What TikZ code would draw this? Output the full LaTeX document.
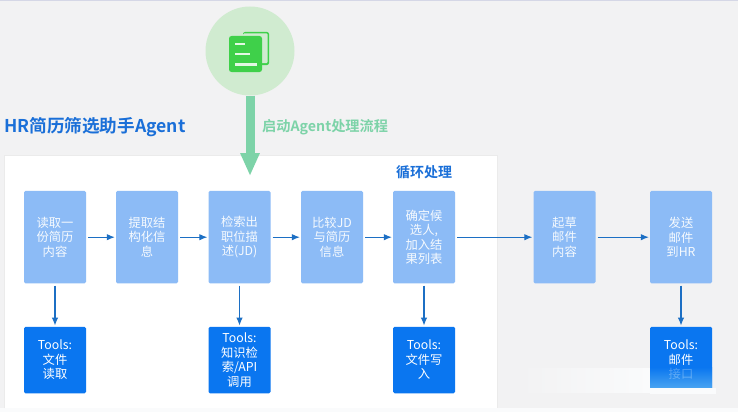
\documentclass[tikz,border=0pt]{standalone}
\usepackage{fontspec}
\setmainfont{Noto Sans CJK SC}
\newfontfamily\boldcjk{Noto Sans CJK SC Bold}
\usetikzlibrary{arrows.meta,positioning}
\definecolor{bggray}{HTML}{F2F2F3}
\definecolor{bandlight}{HTML}{FAFBFC}
\definecolor{topline}{HTML}{D5D7E6}
\definecolor{stepblue}{HTML}{8CBBF6}
\definecolor{toolblue}{HTML}{0A76F0}
\definecolor{linkblue}{HTML}{1C6FC4}
\definecolor{titleblue}{HTML}{1A6FD8}
\definecolor{startgreen}{HTML}{7DD3A8}
\definecolor{circlegreen}{HTML}{D0EBD0}
\definecolor{docgreen}{HTML}{3FD04A}
\definecolor{glare}{HTML}{5FB4F2}
\tikzset{
  x=1pt,y=-1pt,
  base/.style={rounded corners=1.5pt,minimum width=62pt,inner sep=1pt,align=center,text width=52pt,font=\fontsize{12.3}{14.5}\selectfont},
  stepbox/.style={base,fill=stepblue,minimum height=92.5pt,text=white!92!stepblue},
  toolbox/.style={base,fill=toolblue,minimum height=66.5pt,text=white},
  link/.style={draw=linkblue,line width=1.05pt,-{Latex[length=8pt,width=6.5pt]},shorten >=1pt,shorten <=2pt},
}
\begin{document}
\begin{tikzpicture}
\useasboundingbox (0,0) rectangle (738,412);
\fill[bandlight] (0,0) rectangle (738,412);
\fill[bggray] (0,0) rectangle (738,408);
\fill[topline] (0,0) rectangle (738,1.5);
\fill[white] (4,155) rectangle (497,408);
\draw[black!8,line width=0.4pt] (4,408) -- (4,155) -- (497,155) -- (497,408);
\shade[left color=bggray,right color=bandlight] (520,368) rectangle (650,392);

\node[stepbox] (s1) at (55,237.2) {读取一\\份简历\\内容};
\node[stepbox] (s2) at (147,237.2) {提取结\\构化信\\息};
\node[stepbox] (s3) at (239.5,237.2) {检索出\\职位描\\述(JD)};
\node[stepbox] (s4) at (332,237.2) {比较JD\\与简历\\信息};
\node[stepbox] (s5) at (424,237.2) {确定候\\选人,\\加入结\\果列表};
\node[stepbox] (s6) at (564.5,237.2) {起草\\邮件\\内容};
\node[stepbox] (s7) at (681,237.2) {发送\\邮件\\到HR};

\node[toolbox] (t1) at (55,360) {Tools:\\文件\\读取};
\node[toolbox] (t3) at (239.5,360) {Tools:\\知识检\\索/API\\调用};
\node[toolbox] (t5) at (424,360) {Tools:\\文件写\\入};
\node[toolbox] (t7) at (681,360) {Tools:\\邮件\\接口};
\shade[top color=toolblue,bottom color=glare,opacity=.75] (650,367) rectangle (712,388);
\fill[bandlight] (650,388) rectangle (716,394);

\foreach \a/\b in {s1/s2,s2/s3,s3/s4,s4/s5,s5/s6,s6/s7,s1/t1,s3/t3,s5/t5,s7/t7}
  \draw[link] (\a) -- (\b);

\node[circle,fill=circlegreen,minimum size=89pt,inner sep=0pt] (start) at (250,51) {};
\fill[docgreen,rounded corners=2pt] (243,32) rectangle (269,65);
\fill[circlegreen,rounded corners=1pt] (243,33.5) rectangle (267.5,63);
\fill[docgreen,rounded corners=2.5pt] (229,36) rectangle (262,72);
\fill[white!85!docgreen] (235,43) rectangle (245,45.5);
\fill[white!85!docgreen] (235,53) rectangle (250,55.5);
\fill[white!85!docgreen] (235,63) rectangle (257,65.5);
\coordinate (arrowend) at (250,176);
\draw[startgreen,line width=9pt,-{Triangle[length=23pt,width=18pt]}] (start.south) -- (arrowend);

\node[anchor=west,inner sep=0pt,text=titleblue,font=\boldcjk\fontsize{17.6}{19}\selectfont] (title) at (4,127) {HR简历筛选助手Agent};
\node[anchor=west,inner sep=0pt,text=startgreen,font=\boldcjk\fontsize{14.2}{16}\selectfont] (startlabel) at (262,127) {启动Agent处理流程};
\node[anchor=center,inner sep=0pt,text=titleblue,font=\boldcjk\fontsize{14}{16}\selectfont] (loop) at (424,172) {循环处理};
\end{tikzpicture}
\end{document}
